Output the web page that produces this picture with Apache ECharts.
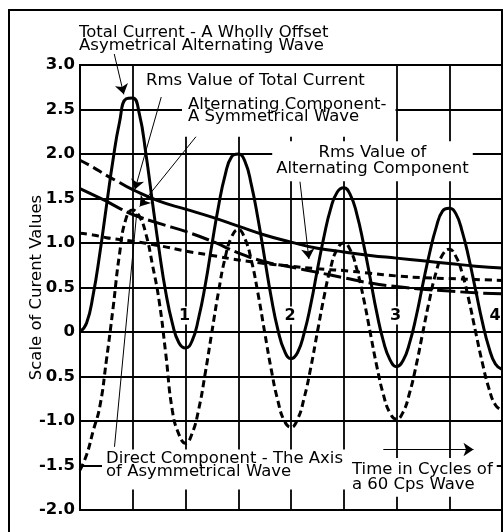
<!DOCTYPE html>
<html>
<head>
<meta charset="utf-8">
<title>Total current - a wholly offset asymetrical alternating wave</title>
<script src="https://cdn.jsdelivr.net/npm/echarts@6/dist/echarts.min.js"></script>
<style>
  html, body { margin: 0; padding: 0; background: #fff; }
  #chart { width: 503px; height: 532px; }
</style>
</head>
<body>
<div id="chart"></div>
<script>
// time axis is in cycles of a 60 cps wave; the two waves are read every 1/16 cycle
const waveStep = 1 / 16

const totalCurrent = [
  0.00, 0.10, 0.42, 0.88, 1.41, 1.93, 2.36, 2.62, 2.63, 2.45, 2.00, 1.45, 0.92, 0.45, 0.10, -0.12,
  -0.18, -0.10, 0.16, 0.53, 0.98, 1.41, 1.76, 1.97, 2.00, 1.92, 1.65, 1.27, 0.83, 0.39, 0.03, -0.21,
  -0.30, -0.23, -0.01, 0.31, 0.70, 1.07, 1.38, 1.57, 1.62, 1.54, 1.32, 0.99, 0.61, 0.22, -0.10, -0.31,
  -0.39, -0.32, -0.12, 0.18, 0.54, 0.88, 1.17, 1.36, 1.39, 1.33, 1.12, 0.82, 0.47, 0.12, -0.17, -0.36,
  -0.42
]

const alternatingComponent = [
  -1.55, -1.38, -1.11, -0.84, -0.32, 0.26, 0.88, 1.28, 1.37, 1.30, 1.10, 0.75, 0.35, -0.24, -0.88, -1.15,
  -1.25, -1.14, -0.87, -0.46, 0.00, 0.45, 0.83, 1.07, 1.15, 1.05, 0.80, 0.43, 0.00, -0.42, -0.77, -1.00,
  -1.07, -0.98, -0.74, -0.40, 0.00, 0.39, 0.72, 0.93, 1.00, 0.92, 0.70, 0.38, 0.00, -0.38, -0.70, -0.91,
  -0.98, -0.90, -0.68, -0.37, 0.00, 0.36, 0.67, 0.87, 0.93, 0.85, 0.65, 0.35, 0.00, -0.34, -0.63, -0.82,
  -0.88
]

// the slow curves, read at these times
const decayTimes = [0, 0.125, 0.25, 0.375, 0.5, 0.75, 1, 1.25, 1.5, 1.75, 2, 2.25, 2.5, 2.75, 3, 3.25, 3.5, 3.75, 4]
const rmsTotal = [1.93, 1.85, 1.76, 1.68, 1.60, 1.47, 1.38, 1.29, 1.19, 1.09, 1.01, 0.94, 0.90, 0.86, 0.83, 0.80, 0.77, 0.74, 0.72]
const directComponent = [1.61, 1.54, 1.47, 1.39, 1.32, 1.22, 1.13, 1.02, 0.89, 0.79, 0.73, 0.67, 0.61, 0.55, 0.51, 0.48, 0.46, 0.44, 0.43]
const rmsAlternating = [1.11, 1.09, 1.06, 1.04, 1.02, 0.97, 0.91, 0.86, 0.81, 0.77, 0.74, 0.71, 0.69, 0.66, 0.63, 0.61, 0.60, 0.59, 0.58]

// tick labels as printed (the -0.5 tick is printed without its sign)
const yTickValues = [-2, -1.5, -1, -0.5, 0, 0.5, 1, 1.5, 2, 2.5, 3]
const yTickLabels = ['-2.0', '-1.5', '-1.0', '0.5', '0', '0.5', '1.0', '1.5', '2.0', '2.5', '3.0']
// cycle numbers are printed just above the zero line
const cycleTicks = [1, 2, 3, 4]
const cycleLabels = ['1', '2', '3', '4']

const font = 'DejaVu Sans'
const ink = '#000'

const wave = values => values.map((v, i) => [i * waveStep, v])
const decay = (values, from, to) => decayTimes.map((t, i) => [t, values[i]]).slice(from, to)

function curve(name, data, type) {
  return {
    name,
    type: 'line',
    data,
    smooth: true,
    symbol: 'none',
    silent: true,
    lineStyle: { color: ink, width: 3, type: type || 'solid', cap: 'butt' }
  }
}

// annotation text blocks: first line centre y, line height, padding
function note(text, x, firstY, lineHeight, pad, align) {
  return {
    type: 'text',
    z: 100,
    x: align === 'center' ? x : x - pad[3],
    y: firstY - lineHeight / 2 - pad[0],
    style: {
      text,
      fill: ink,
      fontFamily: font,
      fontSize: 16.5,
      lineHeight,
      align: align || 'left',
      verticalAlign: 'top',
      backgroundColor: '#fff',
      padding: pad
    }
  }
}

const chart = echarts.init(document.getElementById('chart'))

chart.setOption({
  animation: false,
  backgroundColor: '#fff',
  grid: {
    left: 80,
    right: 1,
    top: 65,
    bottom: 22,
    show: true,
    borderColor: ink,
    borderWidth: 2,
    containLabel: false,
    outerBoundsMode: 'none'
  },
  xAxis: {
    type: 'value',
    min: 0,
    max: 4,
    interval: 0.5,
    axisLine: { show: false },
    axisTick: { show: false },
    axisLabel: { show: false },
    splitLine: { show: true, lineStyle: { color: ink, width: 1.8 } }
  },
  yAxis: {
    type: 'value',
    min: -2,
    max: 3,
    interval: 0.5,
    name: 'Scale of Curent Values',
    nameLocation: 'middle',
    nameRotate: 90,
    nameGap: 35,
    nameMoveOverlap: false,
    nameTextStyle: { color: ink, fontFamily: font, fontSize: 16.5 },
    axisLine: { show: true, onZero: false, lineStyle: { color: ink, width: 2 } },
    axisTick: { show: false },
    axisLabel: {
      margin: 5,
      color: ink,
      fontFamily: font,
      fontSize: 16.5,
      fontWeight: 'bold',
      formatter: v => {
        const i = yTickValues.indexOf(v)
        return i < 0 ? '' : yTickLabels[i]
      }
    },
    splitLine: { show: true, lineStyle: { color: ink, width: 1.8 } }
  },
  series: [
    curve('Total Current', wave(totalCurrent)),
    curve('Alternating Component', wave(alternatingComponent), [7, 4]),
    curve('Rms Value of Total Current (start)', decay(rmsTotal, 0, 4), [10, 5]),
    curve('Rms Value of Total Current', decay(rmsTotal, 3)),
    curve('Direct Component (start)', decay(directComponent, 0, 3)),
    curve('Direct Component', decay(directComponent, 2), [18, 5]),
    curve('Rms Value of Alternating Component', decay(rmsAlternating, 0), [7, 5]),
    {
      name: 'leaders',
      type: 'line',
      data: [],
      clip: false,
      silent: true,
      markLine: {
        silent: true,
        symbol: ['none', 'arrow'],
        symbolSize: 10,
        label: { show: false },
        lineStyle: { color: ink, width: 1, type: 'solid' },
        emphasis: { disabled: true },
        data: [
          [{ x: 114, y: 53 }, { coord: [0.415, 2.67] }],
          [{ coord: [0.77, 2.64] }, { coord: [0.52, 1.6] }],
          [{ coord: [1.11, 2.21] }, { coord: [0.566, 1.41] }],
          [{ coord: [2.085, 1.69] }, { coord: [2.17, 0.82] }],
          [{ coord: [0.327, -1.29] }, { coord: [0.537, 1.33], symbol: 'none' }],
          [{ coord: [2.875, -1.32] }, { coord: [3.73, -1.32] }]
        ]
      },
      markPoint: {
        silent: true,
        symbol: 'circle',
        symbolSize: 1,
        itemStyle: { color: 'rgba(0,0,0,0)' },
        emphasis: { disabled: true },
        label: {
          show: true,
          position: 'top',
          distance: 7,
          color: ink,
          fontFamily: font,
          fontSize: 16,
          fontWeight: 'bold',
          backgroundColor: '#fff',
          padding: [1, 2]
        },
        data: cycleTicks.map((t, i) => ({
          name: cycleLabels[i],
          coord: [t, 0],
          label: {
            formatter: cycleLabels[i],
            offset: [t === 4 ? -7 : -1, 0]
          }
        }))
      }
    }
  ],
  graphic: {
    elements: [
      {
        type: 'rect',
        z: 100,
        shape: { x: 9, y: 10, width: 493, height: 540 },
        style: { fill: 'none', stroke: ink, lineWidth: 2 }
      },
      note('Total Current - A Wholly Offset', 79, 32.5, 16, [0, 0, 0, 0]),
      note('Asymetrical Alternating Wave', 79, 46, 16, [0, 0, 0, 0]),
      note('Rms Value of Total Current', 146, 81, 16, [7, 4, 8, 4]),
      note('Alternating Component-\nA Symmetrical Wave', 188, 104.7, 12, [2, 9, 14, 6]),
      note('Rms Value of\nAlternating Component', 372.5, 152.5, 16.5, [3, 4, 4, 4], 'center'),
      note('Direct Component - The Axis\nof Asymmetrical Wave', 106, 458.7, 12.6, [3, 6, 12, 4]),
      note('Time in Cycles of\na 60 Cps Wave', 352, 469.7, 15.3, [4, 4, 4, 4])
    ]
  }
})
</script>
</body>
</html>
